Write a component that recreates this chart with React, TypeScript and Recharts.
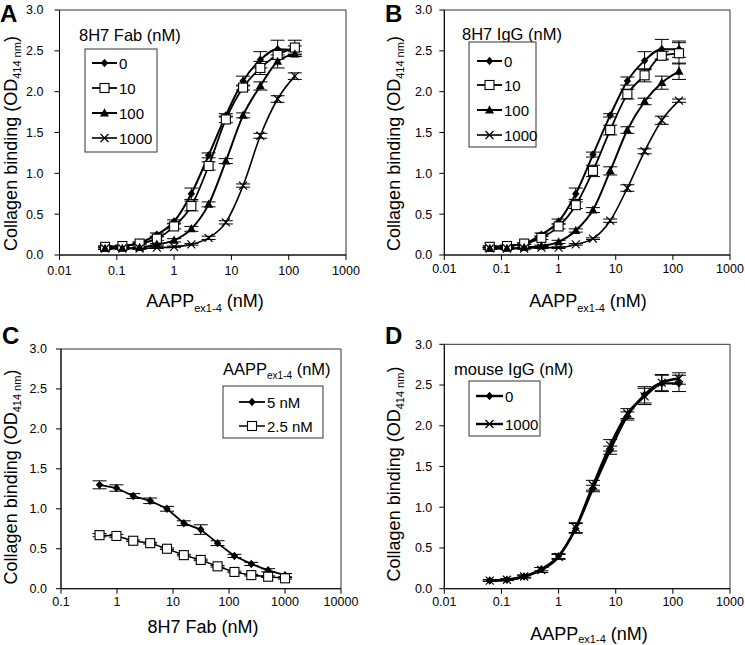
import React from 'react';
import { LineChart, Line, XAxis, YAxis, ErrorBar, ReferenceArea } from 'recharts';

const FONT = '"Liberation Sans", Arial, Helvetica, sans-serif';

// x values (nM)
const aappConc = [0.0625, 0.125, 0.25, 0.5, 1, 2, 4, 8, 16, 32, 64, 128];
const fabConc = [0.488, 0.977, 1.95, 3.91, 7.81, 15.6, 31.3, 62.5, 125, 250, 500, 1000];

const aappTicks = [0.01, 0.1, 1, 10, 100, 1000];
const fabTicks = [0.1, 1, 10, 100, 1000, 10000];
const yTicks = [0, 0.5, 1, 1.5, 2, 2.5, 3];

// A: 8H7 Fab
const fab0 = [0.1, 0.11, 0.15, 0.25, 0.41, 0.75, 1.22, 1.71, 2.13, 2.39, 2.52, 2.51];
const fab0Err = [0.01, 0.01, 0.01, 0.02, 0.02, 0.07, 0.03, 0.02, 0.06, 0.1, 0.11, 0.05];
const fab10 = [0.1, 0.11, 0.14, 0.2, 0.35, 0.6, 1.09, 1.66, 2.05, 2.29, 2.45, 2.54];
const fab10Err = [0.01, 0.01, 0.01, 0.02, 0.03, 0.06, 0.05, 0.04, 0.03, 0.08, 0.05, 0.09];
const fab100 = [0.08, 0.08, 0.09, 0.13, 0.18, 0.32, 0.62, 1.15, 1.71, 2.07, 2.37, 2.46];
const fab100Err = [0.01, 0.01, 0.01, 0.01, 0.02, 0.03, 0.03, 0.03, 0.03, 0.05, 0.08, 0.03];
const fab1000 = [0.08, 0.08, 0.08, 0.09, 0.1, 0.13, 0.21, 0.4, 0.85, 1.46, 1.91, 2.19];
const fab1000Err = [0.01, 0.01, 0.01, 0.01, 0.01, 0.01, 0.02, 0.02, 0.02, 0.03, 0.04, 0.04];

// B: 8H7 IgG
const igg0 = [0.1, 0.11, 0.14, 0.25, 0.41, 0.75, 1.23, 1.71, 2.13, 2.38, 2.52, 2.52];
const igg0Err = [0.01, 0.01, 0.01, 0.02, 0.03, 0.07, 0.03, 0.02, 0.05, 0.11, 0.12, 0.1];
const igg10 = [0.1, 0.11, 0.14, 0.21, 0.35, 0.61, 1.03, 1.53, 1.97, 2.2, 2.44, 2.47];
const igg10Err = [0.01, 0.01, 0.01, 0.02, 0.03, 0.04, 0.07, 0.06, 0.06, 0.08, 0.05, 0.13];
const igg100 = [0.08, 0.08, 0.09, 0.11, 0.16, 0.3, 0.55, 1.03, 1.53, 1.88, 2.11, 2.25];
const igg100Err = [0.01, 0.01, 0.01, 0.01, 0.02, 0.02, 0.03, 0.05, 0.04, 0.04, 0.08, 0.1];
const igg1000 = [0.08, 0.08, 0.08, 0.09, 0.09, 0.13, 0.2, 0.42, 0.82, 1.27, 1.65, 1.89];
const igg1000Err = [0.01, 0.01, 0.01, 0.01, 0.01, 0.01, 0.01, 0.02, 0.04, 0.03, 0.05, 0.02];

// C: AAPP ex1-4 fixed, 8H7 Fab titrated
const aapp5 = [1.3, 1.26, 1.16, 1.1, 1.0, 0.82, 0.74, 0.57, 0.41, 0.31, 0.23, 0.17];
const aapp5Err = [0.05, 0.04, 0.03, 0.035, 0.03, 0.03, 0.06, 0.03, 0.02, 0.02, 0.02, 0.02];
const aapp25 = [0.67, 0.66, 0.6, 0.57, 0.5, 0.42, 0.36, 0.28, 0.21, 0.17, 0.15, 0.13];
const aapp25Err = [0.02, 0.02, 0.01, 0.01, 0.01, 0.01, 0.01, 0.01, 0.01, 0.01, 0.01, 0.01];

// D: mouse IgG control
const mouse0 = [0.1, 0.11, 0.15, 0.24, 0.4, 0.74, 1.23, 1.7, 2.12, 2.38, 2.52, 2.52];
const mouse0Err = [0.01, 0.01, 0.01, 0.02, 0.03, 0.06, 0.04, 0.05, 0.05, 0.1, 0.1, 0.1];
const mouse1000 = [0.1, 0.11, 0.15, 0.23, 0.39, 0.75, 1.27, 1.76, 2.15, 2.36, 2.53, 2.58];
const mouse1000Err = [0.01, 0.01, 0.02, 0.03, 0.03, 0.06, 0.06, 0.07, 0.06, 0.1, 0.1, 0.07];

type MarkerKind = 'diamond' | 'square' | 'triangle' | 'cross';

type Series = {
  key: string;
  name: string;
  values: number[];
  errors: number[];
  marker: MarkerKind;
  width: number;
};

const Marker = ({ kind, cx, cy }: { kind: MarkerKind; cx: number; cy: number }) => {
  if (kind === 'diamond')
    return <path d={`M${cx},${cy - 4.2}L${cx + 3.7},${cy}L${cx},${cy + 4.2}L${cx - 3.7},${cy}Z`} fill="#000" />;
  if (kind === 'square')
    return <rect x={cx - 4.5} y={cy - 4.5} width={9} height={9} fill="#fff" stroke="#000" strokeWidth={1.1} />;
  if (kind === 'triangle')
    return <path d={`M${cx},${cy - 4.8}L${cx + 4.5},${cy + 3.4}L${cx - 4.5},${cy + 3.4}Z`} fill="#000" />;
  return (
    <path
      d={`M${cx - 4},${cy - 4}L${cx + 4},${cy + 4}M${cx - 4},${cy + 4}L${cx + 4},${cy - 4}`}
      stroke="#000"
      strokeWidth={1.2}
      fill="none"
    />
  );
};

const buildRows = (xs: number[], series: Series[]) =>
  xs.map((x, i) => {
    const row: Record<string, number> = { x };
    series.forEach((s) => {
      row[s.key] = s.values[i];
      row[s.key + 'Err'] = s.errors[i];
    });
    return row;
  });

const seriesA: Series[] = [
  { key: 'fab0', name: '0', values: fab0, errors: fab0Err, marker: 'diamond', width: 2 },
  { key: 'fab10', name: '10', values: fab10, errors: fab10Err, marker: 'square', width: 1.8 },
  { key: 'fab100', name: '100', values: fab100, errors: fab100Err, marker: 'triangle', width: 2 },
  { key: 'fab1000', name: '1000', values: fab1000, errors: fab1000Err, marker: 'cross', width: 1.6 },
];
const seriesB: Series[] = [
  { key: 'igg0', name: '0', values: igg0, errors: igg0Err, marker: 'diamond', width: 2 },
  { key: 'igg10', name: '10', values: igg10, errors: igg10Err, marker: 'square', width: 1.8 },
  { key: 'igg100', name: '100', values: igg100, errors: igg100Err, marker: 'triangle', width: 2 },
  { key: 'igg1000', name: '1000', values: igg1000, errors: igg1000Err, marker: 'cross', width: 1.6 },
];
const seriesC: Series[] = [
  { key: 'a5', name: '5 nM', values: aapp5, errors: aapp5Err, marker: 'diamond', width: 1.8 },
  { key: 'a25', name: '2.5 nM', values: aapp25, errors: aapp25Err, marker: 'square', width: 1.5 },
];
const seriesD: Series[] = [
  { key: 'm0', name: '0', values: mouse0, errors: mouse0Err, marker: 'diamond', width: 2.4 },
  { key: 'm1000', name: '1000', values: mouse1000, errors: mouse1000Err, marker: 'cross', width: 2.4 },
];

type LegendSpec = {
  titleX: number;
  titleY: number;
  title: React.ReactNode;
  box: [number, number, number, number];
  rowYs: number[];
  lineX: [number, number];
};

type PanelProps = {
  letter: string;
  letterX: number;
  left: number;
  top: number;
  width: number;
  height: number;
  margin: { top: number; right: number; bottom: number; left: number };
  xs: number[];
  xDomain: [number, number];
  xTicks: number[];
  xTickMargin: number;
  yTickMargin: number;
  curve: 'monotone' | 'linear';
  series: Series[];
  xLabel: React.ReactNode;
  yLabelX: number;
  yLabelY: number;
  legend: LegendSpec;
};

const aappText = (x: number, y: number, drop = 5) => (
  <text x={x} y={y} textAnchor="middle" fontFamily={FONT} fontSize={18} fill="#000">
    AAPP
    <tspan fontSize={11} dy={drop}>
      ex1-4
    </tspan>
    <tspan dy={-drop}>{' (nM)'}</tspan>
  </text>
);

const Panel = (p: PanelProps) => {
  const rows = buildRows(p.xs, p.series);
  const lg = p.legend;
  return (
    <div style={{ position: 'absolute', left: p.left, top: p.top, width: p.width, height: p.height }}>
      <LineChart width={p.width} height={p.height} data={rows} margin={p.margin}>
        <ReferenceArea
          x1={p.xDomain[0]}
          x2={p.xDomain[1]}
          y1={0}
          y2={3}
          fill="none"
          fillOpacity={0}
          stroke="#333"
          strokeWidth={1}
          ifOverflow="visible"
        />
        <XAxis
          dataKey="x"
          type="number"
          scale="log"
          domain={p.xDomain}
          ticks={p.xTicks}
          allowDataOverflow
          tickFormatter={(v) => String(v)}
          tick={{ fontSize: 12.5, fill: '#000', fontFamily: FONT }}
          tickSize={5}
          tickMargin={p.xTickMargin}
          stroke="#000"
          height={30}
        />
        <YAxis
          type="number"
          domain={[0, 3]}
          ticks={yTicks}
          allowDataOverflow
          tickFormatter={(v) => Number(v).toFixed(1)}
          tick={{ fontSize: 12.5, fill: '#000', fontFamily: FONT }}
          tickSize={5}
          tickMargin={p.yTickMargin}
          stroke="#000"
          width={45}
        />
        {p.series.map((s) => (
          <Line
            key={s.key}
            dataKey={s.key}
            name={s.name}
            type={p.curve}
            stroke="#000"
            strokeWidth={s.width}
            isAnimationActive={false}
            dot={(d: any) => (
              <g key={`${s.key}-${d.index}`}>
                <Marker kind={s.marker} cx={d.cx} cy={d.cy} />
              </g>
            )}
            activeDot={false}
          >
            <ErrorBar dataKey={s.key + 'Err'} direction="y" width={7} stroke="#000" strokeWidth={1} />
          </Line>
        ))}
      </LineChart>
      <svg
        width={p.width}
        height={p.height}
        style={{ position: 'absolute', left: 0, top: 0, pointerEvents: 'none' }}
      >
        <text x={p.letterX} y={22} fontFamily={FONT} fontWeight="bold" fontSize={24} fill="#000">
          {p.letter}
        </text>
        <text
          x={p.yLabelX}
          y={p.yLabelY}
          transform={`rotate(-90 ${p.yLabelX} ${p.yLabelY})`}
          textAnchor="middle"
          fontFamily={FONT}
          fontSize={18}
          fill="#000"
        >
          Collagen binding (OD
          <tspan fontSize={11} dy={4}>
            414 nm
          </tspan>
          <tspan dy={-4}>)</tspan>
        </text>
        {p.xLabel}
        <g fontFamily={FONT} fill="#000">
          <text x={lg.titleX} y={lg.titleY} fontSize={16.5}>
            {lg.title}
          </text>
          <rect
            x={lg.box[0]}
            y={lg.box[1]}
            width={lg.box[2] - lg.box[0]}
            height={lg.box[3] - lg.box[1]}
            fill="#fff"
            stroke="#333"
            strokeWidth={1}
          />
          {p.series.map((s, i) => {
            const y = lg.rowYs[i];
            const mid = (lg.lineX[0] + lg.lineX[1]) / 2;
            return (
              <g key={s.key}>
                <line x1={lg.lineX[0]} x2={lg.lineX[1]} y1={y} y2={y} stroke="#000" strokeWidth={s.width} />
                <Marker kind={s.marker} cx={mid} cy={y} />
                <text x={lg.lineX[1] + 2} y={y + 5.5} fontSize={15}>
                  {s.name}
                </text>
              </g>
            );
          })}
        </g>
      </svg>
    </div>
  );
};

export default function App() {
  return (
    <div style={{ position: 'absolute', left: 0, top: 0, width: 745, height: 645, background: '#fff', overflow: 'hidden' }}>
      <Panel
        letter="A"
        letterX={0}
        left={0}
        top={0}
        width={372}
        height={322}
        margin={{ top: 10, right: 26, bottom: 37, left: 14.5 }}
        xs={aappConc}
        xDomain={[0.01, 1000]}
        xTicks={aappTicks}
        xTickMargin={6}
        yTickMargin={11}
        curve="monotone"
        series={seriesA}
        xLabel={aappText(205, 307)}
        yLabelX={16.5}
        yLabelY={143.5}
        legend={{
          titleX: 79,
          titleY: 41,
          title: '8H7 Fab (nM)',
          box: [85, 49, 157, 152],
          rowYs: [63, 88, 113, 138],
          lineX: [92, 117],
        }}
      />
      <Panel
        letter="B"
        letterX={13}
        left={372}
        top={0}
        width={373}
        height={322}
        margin={{ top: 10, right: 15, bottom: 37, left: 27.3 }}
        xs={aappConc}
        xDomain={[0.01, 1000]}
        xTicks={aappTicks}
        xTickMargin={4}
        yTickMargin={7}
        curve="monotone"
        series={seriesB}
        xLabel={aappText(216, 307)}
        yLabelX={28}
        yLabelY={143.5}
        legend={{
          titleX: 90,
          titleY: 40,
          title: '8H7 IgG (nM)',
          box: [97, 42, 164, 147],
          rowYs: [61, 85, 110, 135],
          lineX: [105, 130],
        }}
      />
      <Panel
        letter="C"
        letterX={2}
        left={0}
        top={322}
        width={372}
        height={323}
        margin={{ top: 27, right: 31, bottom: 26.3, left: 16 }}
        xs={fabConc}
        xDomain={[0.1, 10000]}
        xTicks={fabTicks}
        xTickMargin={3}
        yTickMargin={9}
        curve="linear"
        series={seriesC}
        xLabel={
          <text x={203} y={311} textAnchor="middle" fontFamily={FONT} fontSize={18} fill="#000">
            8H7 Fab (nM)
          </text>
        }
        yLabelX={17}
        yLabelY={155}
        legend={{
          titleX: 223,
          titleY: 53,
          title: (
            <>
              AAPP
              <tspan fontSize={10} dy={4}>
                ex1-4
              </tspan>
              <tspan dy={-4}>{' (nM)'}</tspan>
            </>
          ),
          box: [223, 64, 323, 116],
          rowYs: [80, 104],
          lineX: [239, 265],
        }}
      />
      <Panel
        letter="D"
        letterX={13}
        left={372}
        top={322}
        width={373}
        height={323}
        margin={{ top: 22.3, right: 15, bottom: 26.3, left: 27.3 }}
        xs={aappConc}
        xDomain={[0.01, 1000]}
        xTicks={aappTicks}
        xTickMargin={3}
        yTickMargin={7}
        curve="monotone"
        series={seriesD}
        xLabel={aappText(217, 317.5, 3.2)}
        yLabelX={28}
        yLabelY={152}
        legend={{
          titleX: 82,
          titleY: 53,
          title: 'mouse IgG (nM)',
          box: [97, 59, 168, 114],
          rowYs: [74, 102],
          lineX: [104, 131],
        }}
      />
    </div>
  );
}
